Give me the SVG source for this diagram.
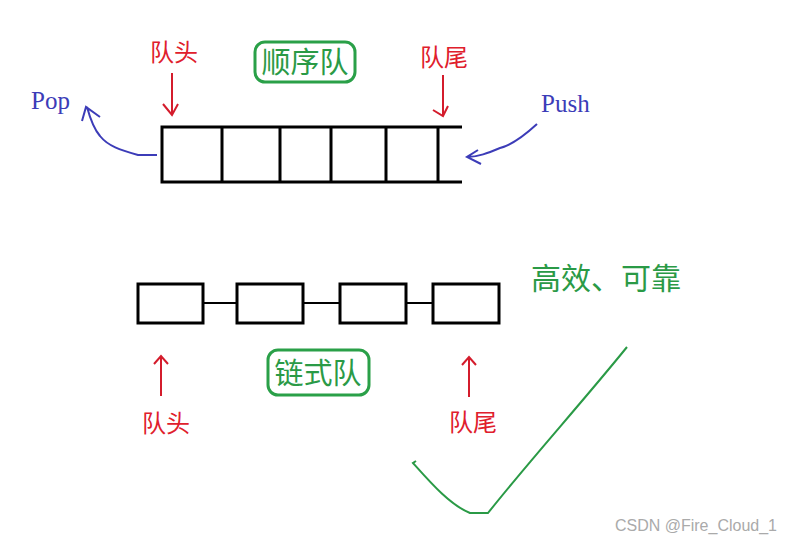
<svg xmlns="http://www.w3.org/2000/svg" width="792" height="544" viewBox="0 0 792 544">
<style>
.box{fill:none;stroke:#000;stroke-width:3}
.link{stroke:#000;stroke-width:2}
.red{fill:#e0202c;font-family:"Noto Sans CJK SC","Liberation Serif",serif;font-size:24px;text-anchor:middle}
.redl{stroke:#d41c2c;stroke-width:2;fill:none}
.green{fill:#2a9a46;font-family:"Noto Sans CJK SC",sans-serif;font-size:29px;text-anchor:middle}
.gbox{fill:none;stroke:#2aa048;stroke-width:3}
.blue{fill:#3c3cb8;font-family:"Liberation Serif",serif;font-size:25px}
.bluel{stroke:#3c3cb8;stroke-width:2;fill:none}
</style>
<rect width="792" height="544" fill="#fff"/>
<g id="seq-queue">
<path class="box" d="M462,127 H162 V182 H462 M222,127 V182 M280,127 V182 M331,127 V182 M386,127 V182 M438,127 V182"/>
</g>
<g id="seq-title">
<rect class="gbox" x="255" y="42" width="100" height="40" rx="10"/>
<text class="green" x="305" y="73">顺序队</text>
</g>
<g id="seq-head">
<text class="red" x="174" y="61">队头</text>
<path class="redl" d="M172,73 V115 M163,104 L172,115 L178,104"/>
</g>
<g id="seq-tail">
<text class="red" x="444" y="66">队尾</text>
<path class="redl" d="M443,75 V116 M433,110 L443,116 L448,106"/>
</g>
<g id="pop">
<text class="blue" x="31" y="109">Pop</text>
<path class="bluel" d="M157,155 L138,155 C120,150 108,146 100,136 C93,128 90,118 87,107 M82,121 L86,107 L100,117"/>
</g>
<g id="push">
<text class="blue" x="541" y="112">Push</text>
<path class="bluel" d="M537,124 C525,135 512,145 500,148 C488,153 478,157 467,157 M478,150 L467,157 L481,164"/>
</g>
<g id="link-nodes">
<rect class="box" x="138" y="284" width="65" height="39"/>
<rect class="box" x="237" y="284" width="66" height="39"/>
<rect class="box" x="340" y="284" width="66" height="39"/>
<rect class="box" x="433" y="284" width="66" height="39"/>
</g>
<g id="connectors">
<path class="link" d="M203,303 H237 M303,303 H340 M406,303 H433"/>
</g>
<g id="link-title">
<rect class="gbox" x="268" y="350" width="101" height="45" rx="10"/>
<text class="green" x="318" y="384">链式队</text>
</g>
<g id="link-head">
<path class="redl" d="M161,396 V356 M154,364 L161,356 L168,364"/>
<text class="red" x="166" y="432">队头</text>
</g>
<g id="link-tail">
<path class="redl" d="M469,397 V357 M462,365 L469,357 L476,365"/>
<text class="red" x="473" y="431">队尾</text>
</g>
<g id="tagline">
<text class="green" x="606" y="289" style="font-size:30px">高效、可靠</text>
</g>
<g id="check">
<path d="M416,461 L413,463 C430,482 450,505 470,513 L488,513 C530,460 580,405 627,347" fill="none" stroke="#2a9a46" stroke-width="2"/>
</g>
<text x="777" y="531" text-anchor="end" font-family="Liberation Sans,sans-serif" font-size="16" fill="#aaa">CSDN @Fire_Cloud_1</text>
</svg>
